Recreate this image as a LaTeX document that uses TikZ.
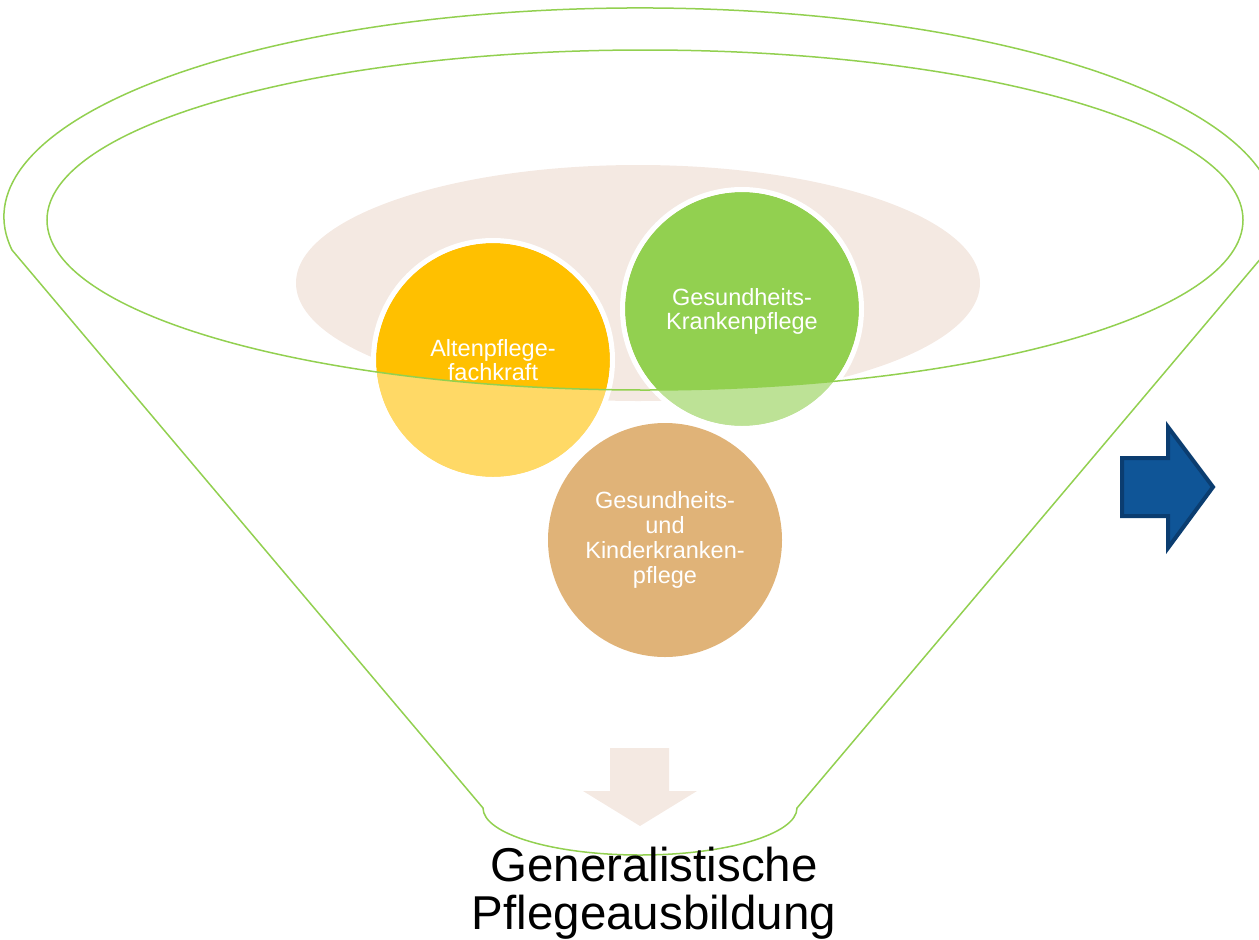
\documentclass[tikz,border=0pt]{standalone}
\usepackage{fontspec}
\setmainfont{Liberation Sans}
\definecolor{fgreen}{HTML}{92D050}
\definecolor{beige}{HTML}{F4E9E2}
\definecolor{cyellow}{HTML}{FFC000}
\definecolor{cgreen}{HTML}{92D050}
\definecolor{ctan}{HTML}{E0B378}
\definecolor{bluefill}{HTML}{0F5597}
\definecolor{blueline}{HTML}{0B3D70}
\tikzset{
  bubble/.style={circle, minimum size=234pt, inner sep=0pt, align=center,
    text=white, font=\fontsize{23.5}{23.5}\selectfont},
  ring/.style={draw=white, line width=5pt},
  funnelline/.style={draw=fgreen, line width=1.5pt},
}
\begin{document}
\begin{tikzpicture}[x=1pt, y=-1pt]
\useasboundingbox (0,0) rectangle (1259,940);
% beige ellipse behind the circles
\fill[beige] (638,283) ellipse [x radius=342, y radius=118];
% top circles
\node[bubble, fill=cyellow] (alt) at (493,360) {Altenpflege-\\fachkraft};
\draw[ring] (alt.center) circle (119.5);
\node[bubble, fill=cgreen, text depth=0pt] (gk) at (742,309) {Gesundheits-\\Krankenpflege};
\draw[ring] (gk.center) circle (119.5);
% lighter tint of the circles outside the funnel opening
\begin{scope}
  \clip (alt.center) circle (117) (gk.center) circle (117);
  \fill[white, opacity=0.4, even odd rule] (0,0) rectangle (1259,940)
    (645,220) ellipse [x radius=598, y radius=170];
\end{scope}
% funnel
\draw[funnelline] (12,250)
  arc[start angle=170.9, end angle=369.1, x radius=636, y radius=209]
  -- (797,808)
  arc[start angle=0, end angle=180, x radius=157, y radius=47]
  -- cycle;
\draw[funnelline] (645,220) ellipse [x radius=598, y radius=170];
% bottom circle
\node[bubble, fill=ctan, font=\fontsize{23.5}{25}\selectfont] (gkk) at (665,540)
  {Gesundheits-\\und\\Kinderkranken-\\pflege};
% down arrow
\fill[beige] (610,748) -- (669,748) -- (669,791) -- (697,791) -- (640,826)
  -- (583,791) -- (610,791) -- cycle;
% result text
\node[anchor=north, inner sep=0pt, align=center,
  font=\fontsize{47.5}{48}\selectfont] (res) at (654,847)
  {Generalistische\\Pflegeausbildung};
% blue arrow
\draw[fill=bluefill, draw=blueline, line width=4pt, line join=miter]
  (1122,458) -- (1168,458) -- (1168,427) -- (1213,487) -- (1168,548)
  -- (1168,516) -- (1122,516) -- cycle;
\end{tikzpicture}
\end{document}
